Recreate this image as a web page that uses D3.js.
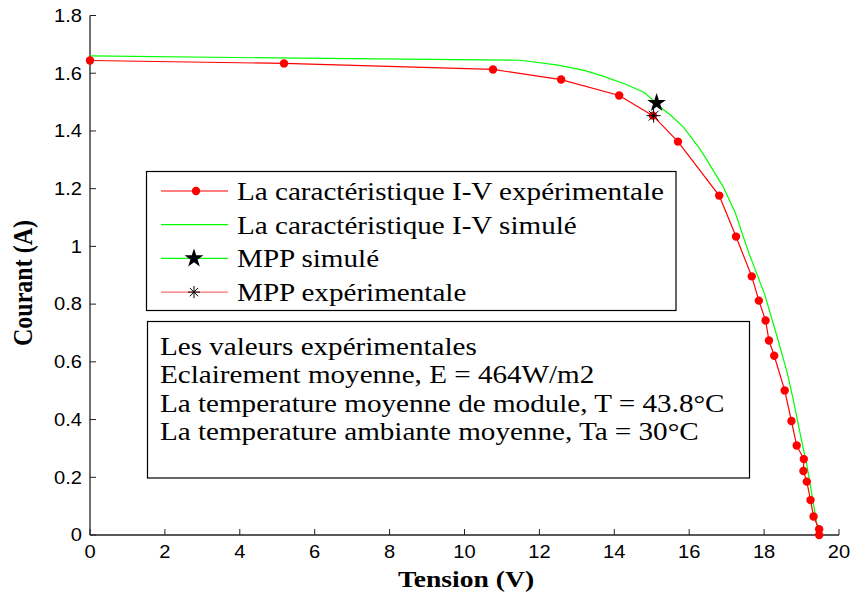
<!DOCTYPE html>
<html>
<head>
<meta charset="utf-8">
<script src="https://cdn.jsdelivr.net/npm/d3@7"></script>
<style>
  body { margin: 0; background: #fff; }
  svg { display: block; }
</style>
</head>
<body>
<script>
// experimental I-V points (V, A)
var expV = [0, 5.18, 10.76, 12.58, 14.13, 15.03, 15.70, 16.80, 17.25, 17.67, 17.86, 18.04, 18.13, 18.27, 18.55, 18.73, 18.87, 19.06, 19.05, 19.14, 19.24, 19.32, 19.47, 19.47];
var expI = [1.644, 1.634, 1.613, 1.578, 1.523, 1.453, 1.363, 1.176, 1.034, 0.896, 0.812, 0.743, 0.674, 0.621, 0.501, 0.395, 0.310, 0.263, 0.222, 0.185, 0.121, 0.064, 0.020, 0];

// simulated I-V curve
var simV = [0, 5.6, 11.5, 12.5, 13.2, 13.7, 14.3, 14.8, 15.05, 15.3, 15.5, 15.84, 16.3, 16.47, 16.9, 17.23, 17.44, 17.6, 18.02, 18.2, 18.35, 18.62, 18.78, 18.96, 19.15, 19.36, 19.43, 19.45];
var simI = [1.66, 1.652, 1.645, 1.628, 1.61, 1.59, 1.562, 1.533, 1.505, 1.475, 1.455, 1.414, 1.335, 1.30, 1.208, 1.117, 1.035, 0.975, 0.832, 0.752, 0.686, 0.561, 0.468, 0.353, 0.237, 0.075, 0.017, 0];

var mppSim = [15.13, 1.497];
var mppExp = [15.05, 1.453];

var xTicks = [0, 2, 4, 6, 8, 10, 12, 14, 16, 18, 20];
var yTicks = [0, 0.2, 0.4, 0.6, 0.8, 1, 1.2, 1.4, 1.6, 1.8];

var legendLabels = ["La caractéristique I-V expérimentale", "La caractéristique I-V simulé", "MPP simulé", "MPP expérimentale"];
var infoLines = ["Les valeurs expérimentales", "Eclairement moyenne, E = 464W/m2", "La temperature moyenne de module, T = 43.8°C", "La temperature ambiante moyenne, Ta = 30°C"];

var W = 850, H = 597;
var SX = 1.15;   // picture is stretched horizontally
var SXT = 1.165; // same for the serif texts in the boxes
var serif = "'Liberation Serif', 'Times New Roman', serif";
var sans = "'Liberation Sans', Arial, sans-serif";

var svg = d3.select("body").append("svg").attr("width", W).attr("height", H);
svg.append("rect").attr("width", W).attr("height", H).attr("fill", "#fff");

var x = d3.scaleLinear().domain([0, 20]).range([90, 839]);
var y = d3.scaleLinear().domain([0, 1.8]).range([535, 15.5]);

// axes lines
svg.append("line").attr("x1", x(0)).attr("x2", x(20)).attr("y1", y(0)).attr("y2", y(0))
  .attr("stroke", "#222").attr("stroke-width", 1.3);
svg.append("line").attr("x1", x(0)).attr("x2", x(0)).attr("y1", y(0)).attr("y2", y(1.8))
  .attr("stroke", "#222").attr("stroke-width", 1.3);

// ticks (inward)
svg.selectAll(".xt").data(xTicks).enter().append("line")
  .attr("x1", function (d) { return x(d); }).attr("x2", function (d) { return x(d); })
  .attr("y1", y(0)).attr("y2", y(0) - 6).attr("stroke", "#222");
svg.selectAll(".yt").data(yTicks).enter().append("line")
  .attr("x1", x(0)).attr("x2", x(0) + 6)
  .attr("y1", function (d) { return y(d); }).attr("y2", function (d) { return y(d); })
  .attr("stroke", "#222");

svg.selectAll(".xl").data(xTicks).enter().append("text")
  .attr("transform", function (d) { return "translate(" + x(d) + ",558) scale(" + SX + ",1)"; })
  .attr("text-anchor", "middle").style("font-family", sans).style("font-size", "17.5px")
  .text(function (d) { return d; });
svg.selectAll(".yl").data(yTicks).enter().append("text")
  .attr("transform", function (d) { return "translate(82," + (y(d) + 6.3) + ") scale(" + SX + ",1)"; })
  .attr("text-anchor", "end").style("font-family", sans).style("font-size", "17.5px")
  .text(function (d) { return d; });

// axis titles
svg.append("text")
  .attr("transform", "translate(466,587) scale(" + SX + ",1)")
  .attr("text-anchor", "middle").style("font-family", serif).style("font-weight", "bold")
  .style("font-size", "24px").text("Tension (V)");
svg.append("text")
  .attr("transform", "translate(32,283) scale(" + SX + ",1) rotate(-90)")
  .attr("text-anchor", "middle").style("font-family", serif).style("font-weight", "bold")
  .style("font-size", "24px").text("Courant (A)");

// curves
var line = d3.line().x(function (d) { return x(d[0]); }).y(function (d) { return y(d[1]); });
var simData = simV.map(function (v, i) { return [v, simI[i]]; });
var expData = expV.map(function (v, i) { return [v, expI[i]]; });

svg.append("path").datum(simData).attr("d", line).attr("fill", "none")
  .attr("stroke", "#00ff00").attr("stroke-width", 1.2);
svg.append("path").datum(expData).attr("d", line).attr("fill", "none")
  .attr("stroke", "#ff0000").attr("stroke-width", 1.2);
svg.selectAll(".dot").data(expData).enter().append("circle")
  .attr("cx", function (d) { return x(d[0]); }).attr("cy", function (d) { return y(d[1]); })
  .attr("r", 4.2).attr("fill", "#ff0000");

var star = d3.symbol().type(d3.symbolStar).size(110);
function asterisk(g, cx, cy, r) {
  [[-r, 0, r, 0], [0, -r, 0, r], [-r * 0.7, -r * 0.7, r * 0.7, r * 0.7], [-r * 0.7, r * 0.7, r * 0.7, -r * 0.7]].forEach(function (s) {
    g.append("line").attr("x1", cx + s[0]).attr("y1", cy + s[1]).attr("x2", cx + s[2]).attr("y2", cy + s[3])
      .attr("stroke", "#000").attr("stroke-width", 1);
  });
}
svg.append("path").attr("d", star)
  .attr("transform", "translate(" + x(mppSim[0]) + "," + y(mppSim[1]) + ")").attr("fill", "#000");
asterisk(svg, x(mppExp[0]), y(mppExp[1]), 7);

// legend
var leg = svg.append("g");
leg.append("rect").attr("x", 146.5).attr("y", 171.5).attr("width", 529.5).attr("height", 139)
  .attr("fill", "#fff").attr("stroke", "#000").attr("stroke-width", 1.2);
var legColors = ["#ff0000", "#00ff00", "#00ff00", "#ff7070"];
legendLabels.forEach(function (t, i) {
  var by = 200 + i * 33.7;
  leg.append("line").attr("x1", 161).attr("x2", 228).attr("y1", by - 9).attr("y2", by - 9)
    .attr("stroke", legColors[i]).attr("stroke-width", 1.2);
  if (i === 0) leg.append("circle").attr("cx", 196).attr("cy", by - 9).attr("r", 4.2).attr("fill", "#ff0000");
  if (i === 2) leg.append("path").attr("d", star).attr("transform", "translate(194," + (by - 9) + ")").attr("fill", "#000");
  if (i === 3) asterisk(leg, 194, by - 9, 6);
  leg.append("text").attr("transform", "translate(237," + by + ") scale(" + SXT + ",1)")
    .style("font-family", serif).style("font-size", "25px").text(t);
});

// info box
var info = svg.append("g");
info.append("rect").attr("x", 147.5).attr("y", 321.5).attr("width", 602).attr("height", 156.5)
  .attr("fill", "#fff").attr("stroke", "#000").attr("stroke-width", 1.2);
infoLines.forEach(function (t, i) {
  info.append("text").attr("transform", "translate(160," + (355 + i * 28.4) + ") scale(" + SXT + ",1)")
    .style("font-family", serif).style("font-size", "25px").text(t);
});
</script>
</body>
</html>
